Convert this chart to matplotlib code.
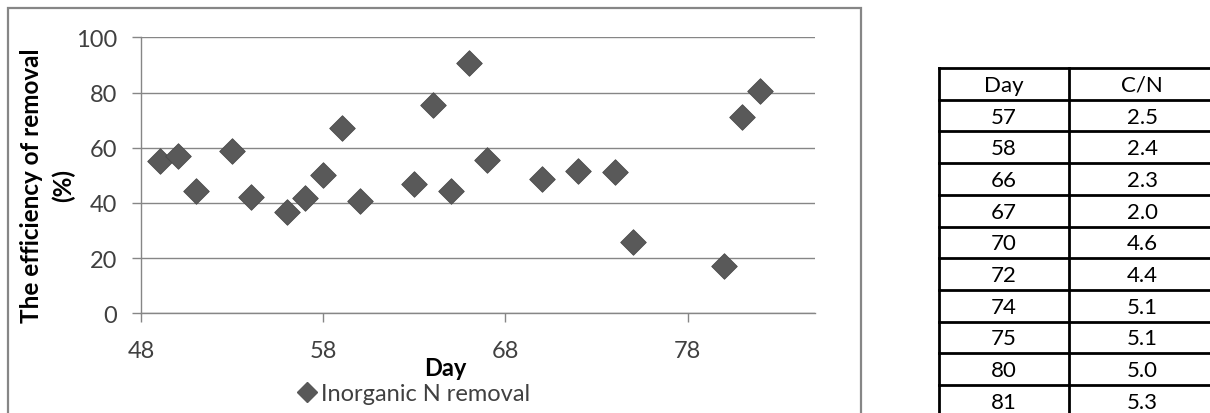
import matplotlib
matplotlib.use('Agg')
import matplotlib.pyplot as plt
from matplotlib.lines import Line2D

plt.rcParams['font.family'] = ['Lato', 'DejaVu Sans']

# Inorganic N removal efficiency by day
days = [49, 50, 51, 53, 54, 56, 57, 58, 59, 60, 63, 64, 65, 66, 67,
        70, 72, 74, 75, 80, 81, 82]
removal = [55.1, 57.0, 44.4, 58.9, 42.1, 36.6, 41.7, 50.1, 67.2, 40.6,
           46.7, 75.6, 44.2, 90.7, 55.7, 48.7, 51.4, 51.1, 25.7, 17.2,
           71.0, 80.4]

# C/N ratio table
table_days = ['57', '58', '66', '67', '70', '72', '74', '75', '80', '81']
table_cn = ['2.5', '2.4', '2.3', '2.0', '4.6', '4.4', '5.1', '5.1', '5.0', '5.3']

W, H = 1210, 414
GRAY = '#868686'
MARK = '#595959'
TXT = '#404040'

fig = plt.figure(figsize=(W / 100, H / 100), dpi=100)

def fx(px):
    return px / W

def fy(py):
    return 1 - py / H

# chart frame (bottom edge runs off the page)
fig.add_artist(plt.Rectangle((fx(8), fy(430)), fx(861) - fx(8), fy(9) - fy(430),
                             transform=fig.transFigure, fill=False,
                             edgecolor=GRAY, linewidth=1.6))

ax = fig.add_axes([fx(141.3), fy(314.3), fx(815) - fx(141.3), fy(38.3) - fy(314.3)])
ax.scatter(days, removal, marker='D', s=170, color=MARK, edgecolors='#4a4a4a',
           linewidths=0.6, zorder=3, clip_on=False)

ax.set_xlim(48, 85)
ax.set_ylim(0, 100)
ax.set_xticks([48, 58, 68, 78])
ax.set_yticks(range(0, 101, 20))
ax.grid(axis='y', color=GRAY, linewidth=1.0)
ax.set_axisbelow(True)
for side in ['top', 'right']:
    ax.spines[side].set_visible(False)
for side in ['left', 'bottom']:
    ax.spines[side].set_color(GRAY)
    ax.spines[side].set_linewidth(1.0)
ax.tick_params(axis='both', colors=GRAY, labelcolor=TXT, labelsize=17,
               length=6.5, width=1.0)
ax.tick_params(axis='x', pad=13)
ax.tick_params(axis='y', pad=11)

fig.text(fx(445), fy(369), 'Day', ha='center', va='center', fontsize=17,
         fontweight='bold', color='black')
fig.text(fx(32), fy(186), 'The efficiency of removal', ha='center', va='center',
         rotation=90, fontsize=17.5, fontweight='bold', color='black')
fig.text(fx(63), fy(186), '(%)', ha='center', va='center',
         rotation=90, fontsize=17.5, fontweight='bold', color='black')

# legend below the plot
handle = Line2D([], [], marker='D', linestyle='none', color=MARK, markersize=10)
fig.legend([handle], ['Inorganic N removal'], loc='center',
           bbox_to_anchor=(fx(413), fy(395)), frameon=False, fontsize=17,
           labelcolor=TXT, handletextpad=0.1, handlelength=1.0, borderpad=0)

# C/N table drawn with plain lines
x_left, x_mid, x_right = 939, 1069, 1215
y_top, row_h = 69, 31.7
n_rows = len(table_days) + 1
lw = 2.0
for i in range(n_rows + 1):
    y = y_top + i * row_h
    fig.add_artist(Line2D([fx(x_left), fx(x_right)], [fy(y), fy(y)],
                          color='black', linewidth=lw, transform=fig.transFigure))
for x in [x_left, x_mid, x_right]:
    fig.add_artist(Line2D([fx(x), fx(x)], [fy(y_top), fy(y_top + n_rows * row_h)],
                          color='black', linewidth=lw, transform=fig.transFigure))

rows = [('Day', 'C/N')] + list(zip(table_days, table_cn))
for i, (d, cn) in enumerate(rows):
    yc = y_top + (i + 0.5) * row_h + 1
    fig.text(fx((x_left + x_mid) / 2), fy(yc), d, ha='center', va='center',
             fontsize=16, color='black')
    fig.text(fx((x_mid + x_right) / 2), fy(yc), cn, ha='center', va='center',
             fontsize=16, color='black')

fig.savefig('out.png', dpi=100)
